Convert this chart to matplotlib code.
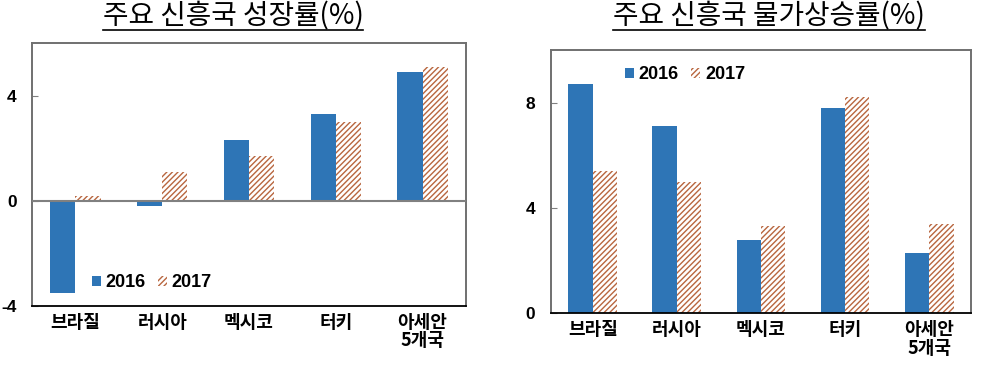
import numpy as np
import matplotlib.pyplot as plt
from matplotlib.lines import Line2D

plt.rcParams['font.family'] = ['Liberation Sans', 'Noto Sans CJK KR']
plt.rcParams['hatch.linewidth'] = 1.0

countries = ['브라질', '러시아', '멕시코', '터키', '아세안\n5개국']
years = ['2016', '2017']
growth_2016 = [-3.5, -0.2, 2.3, 3.3, 4.9]
growth_2017 = [0.2, 1.1, 1.7, 3.0, 5.1]
inflation_2016 = [8.7, 7.1, 2.8, 7.8, 2.3]
inflation_2017 = [5.4, 5.0, 3.3, 8.2, 3.4]

blue = '#2e75b6'
hatch_col = '#b8663f'
w = 0.29

fig = plt.figure(figsize=(9.83, 3.73), dpi=100)
ax1 = fig.add_axes([0.0326, 0.1796, 0.4414, 0.7051])
ax2 = fig.add_axes([0.5602, 0.160, 0.4278, 0.706])

x = np.arange(len(countries))


def draw(ax, v16, v17, ylim, yticks, legend_loc):
    ax.bar(x - w / 2, v16, w, color=blue, label=years[0], zorder=2)
    ax.bar(x + w / 2, v17, w, color='white', edgecolor=hatch_col, linewidth=0,
           hatch='//////', label=years[1], zorder=2)
    ax.set_xlim(-0.5, len(countries) - 0.5)
    ax.set_ylim(*ylim)
    ax.set_yticks(yticks)
    ax.set_yticklabels([str(t) for t in yticks], fontsize=12.5, fontweight='bold')
    ax.set_xticks(x)
    ax.set_xticklabels(countries, fontsize=13, fontweight='bold',
                       family=['Noto Sans CJK KR', 'Liberation Sans'], linespacing=0.95)
    ax.tick_params(axis='y', direction='in', length=4, pad=11, color='#808080')
    ax.tick_params(axis='x', length=0, pad=5)
    for s in ['left', 'top', 'right']:
        ax.spines[s].set_color('#707070')
        ax.spines[s].set_linewidth(1.4)
    ax.spines['bottom'].set_color('black')
    ax.spines['bottom'].set_linewidth(1.3)
    leg = ax.legend(loc='center left', bbox_to_anchor=legend_loc, ncol=2, frameon=False,
                    handlelength=0.5, handleheight=0.5, handletextpad=0.25,
                    columnspacing=0.7, borderpad=0, borderaxespad=0,
                    prop={'size': 13, 'weight': 'bold'})
    return leg


draw(ax1, growth_2016, growth_2017, (-4, 6), [-4, 0, 4], (0.138, 0.088))
ax1.axhline(0, color='#808080', linewidth=1.5, zorder=3)
draw(ax2, inflation_2016, inflation_2017, (0, 10), [0, 4, 8], (0.177, 0.905))

titles = [('주요 신흥국 성장률(%)', 233), ('주요 신흥국 물가상승률(%)', 769)]
fig.canvas.draw()
r = fig.canvas.get_renderer()
for txt, cx in titles:
    t = fig.text(cx / 983, 1 - 16 / 373, txt, ha='center', va='center', fontsize=20,
                 family=['Noto Sans CJK KR', 'Liberation Sans'])
    bb = t.get_window_extent(renderer=r)
    y = 1 - 29.5 / 373
    fig.add_artist(Line2D([bb.x0 / 983, bb.x1 / 983], [y, y], transform=fig.transFigure,
                          color='black', linewidth=1.2))

fig.savefig('out.png', dpi=100)
